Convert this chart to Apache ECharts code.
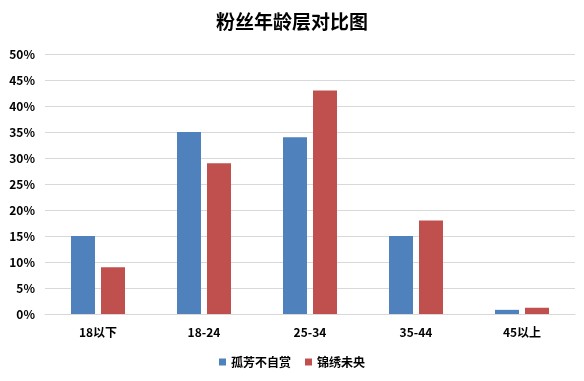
<!DOCTYPE html>
<html><head><meta charset="utf-8">
<script src="https://cdn.jsdelivr.net/npm/echarts@6/dist/echarts.min.js"></script>
<style>html,body{margin:0;padding:0;background:#fff}#c{width:584px;height:381px}</style>
</head><body><div id="c"></div>
<script>
const categories = ['18以下', '18-24', '25-34', '35-44', '45以上'];
const seriesA = [15, 35, 34, 15, 0.8];
const seriesB = [9, 29, 43, 18, 1.2];
const nameA = '孤芳不自赏';
const nameB = '锦绣未央';
const font = '"Noto Sans CJK SC", "Microsoft YaHei", sans-serif';
const chart = echarts.init(document.getElementById('c'));
chart.setOption({
  animation: false,
  title: { text: '粉丝年龄层对比图', left: 'center', top: 7,
    textStyle: { fontFamily: font, fontSize: 19, fontWeight: 'bold', color: '#000' } },
  legend: { bottom: 8, left: 'center', itemWidth: 7, itemHeight: 7, itemGap: 14, icon: 'rect',
    textStyle: { fontFamily: font, fontSize: 12, fontWeight: 'bold', color: '#000' } },
  grid: { left: 45, right: 9, top: 54, bottom: 67 },
  xAxis: { type: 'category', data: categories,
    axisLine: { lineStyle: { color: '#d9d9d9' } }, axisTick: { show: false },
    axisLabel: { fontFamily: font, fontSize: 12, fontWeight: 'bold', color: '#000', margin: 12 } },
  yAxis: { type: 'value', min: 0, max: 50, interval: 5,
    axisLine: { show: false }, axisTick: { show: false },
    splitLine: { lineStyle: { color: '#d9d9d9' } },
    axisLabel: { formatter: '{value}%', fontFamily: font, fontSize: 12, fontWeight: 'bold', color: '#000', margin: 10 } },
  series: [
    { name: nameA, type: 'bar', data: seriesA, barWidth: 24, barGap: '25%', itemStyle: { color: '#4F81BD' } },
    { name: nameB, type: 'bar', data: seriesB, barWidth: 24, itemStyle: { color: '#C0504D' } }
  ]
});
</script></body></html>
